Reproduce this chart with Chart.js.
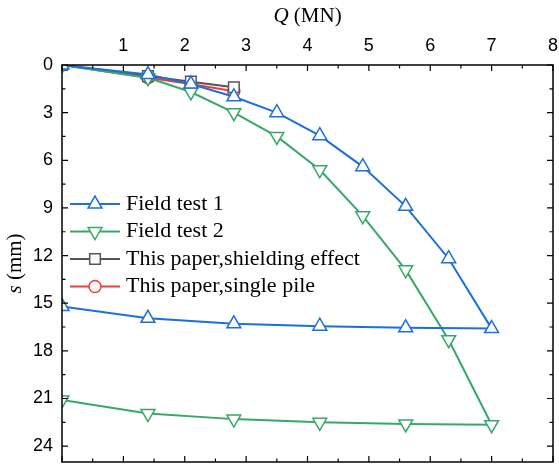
<!DOCTYPE html>
<html>
<head>
<meta charset="utf-8">
<script src="https://cdn.jsdelivr.net/npm/chart.js@4.4.0/dist/chart.umd.min.js"></script>
<style>
  html, body { margin: 0; padding: 0; background: #fff; }
</style>
</head>
<body>
<canvas id="myChart" width="559" height="464"></canvas>
<script>
'use strict';

// load steps (MN) and settlement readings (mm)
const loadSteps = [0, 1.4, 2.1, 2.8, 3.5, 4.2, 4.9, 5.6, 6.3, 7.0];
const unloadSteps = [5.6, 4.2, 2.8, 1.4, 0];
const test1Load = [0, 0.6, 1.2, 2.0, 3.0, 4.45, 6.4, 8.9, 12.2, 16.6];
const test1Unload = [16.55, 16.45, 16.3, 15.95, 15.2];
const test2Load = [0, 0.8, 1.7, 3.0, 4.5, 6.6, 9.5, 12.9, 17.3, 22.65];
const test2Unload = [22.6, 22.5, 22.3, 21.95, 21.1];
const paperSteps = [0, 1.4, 2.1, 2.8];
const shieldingSettle = [0, 0.7, 1.05, 1.4];
const singleSettle = [0, 0.8, 1.2, 1.65];

const seriesNames = [
  'Field test 1',
  'Field test 2',
  'This paper,shielding effect',
  'This paper,single pile',
];
const qTicks = [1, 2, 3, 4, 5, 6, 7, 8];
const sTicks = [0, 3, 6, 9, 12, 15, 18, 21, 24];

function toPoints(xs, ys) {
  return xs.map((x, i) => ({ x: x, y: ys[i] }));
}

function makeSeries(label, points, color, style, rotation, radius) {
  return {
    label: label,
    data: points,
    borderColor: color,
    borderWidth: 2,
    backgroundColor: '#fff',
    pointStyle: style,
    pointRotation: rotation,
    pointRadius: radius,
    pointBorderWidth: 1.5,
    pointBorderColor: color,
    pointBackgroundColor: '#fff',
    tension: 0,
  };
}

const test1Points = toPoints(loadSteps, test1Load).concat(toPoints(unloadSteps, test1Unload));
const test2Points = toPoints(loadSteps, test2Load).concat(toPoints(unloadSteps, test2Unload));

const datasets = [
  makeSeries(seriesNames[0], test1Points, '#1c6fde', 'triangle', 0, 8),
  makeSeries(seriesNames[1], test2Points, '#37a866', 'triangle', 180, 8),
  makeSeries(seriesNames[2], toPoints(paperSteps, shieldingSettle), '#555555', 'rect', 0, 7.5),
  makeSeries(seriesNames[3], toPoints(paperSteps, singleSettle), '#f23a3a', 'circle', 0, 6),
];

// box with inward ticks, axis titles and the legend
const framePlugin = {
  id: 'frame',
  afterDraw(chart) {
    const ctx = chart.ctx;
    const area = chart.chartArea;
    const xs = chart.scales.x;
    const ys = chart.scales.y;

    ctx.save();
    ctx.strokeStyle = '#000';
    ctx.lineWidth = 1.5;
    ctx.strokeRect(area.left, area.top, area.right - area.left, area.bottom - area.top);

    ctx.lineWidth = 1.2;
    ctx.beginPath();
    for (let v = 0; v <= 8; v += 0.5) {
      const px = xs.getPixelForValue(v);
      const len = v % 1 === 0 ? 6 : 3.5;
      ctx.moveTo(px, area.top);
      ctx.lineTo(px, area.top + len);
      ctx.moveTo(px, area.bottom);
      ctx.lineTo(px, area.bottom - len);
    }
    for (let v = 0; v <= 25; v += 1.5) {
      const py = ys.getPixelForValue(v);
      const len = v % 3 === 0 ? 6 : 3.5;
      ctx.moveTo(area.left, py);
      ctx.lineTo(area.left + len, py);
      ctx.moveTo(area.right, py);
      ctx.lineTo(area.right - len, py);
    }
    ctx.stroke();

    // axis titles, italic symbol followed by the unit
    ctx.fillStyle = '#000';
    ctx.textBaseline = 'middle';
    drawTitle(ctx, 'Q', ' (MN)', (area.left + area.right) / 2, 16);
    ctx.translate(15, (area.top + area.bottom) / 2);
    ctx.rotate(-Math.PI / 2);
    drawTitle(ctx, 's', ' (mm)', 0, 0);
    ctx.restore();

    drawLegend(chart);
  },
};

function drawTitle(ctx, symbol, unit, cx, cy) {
  const italic = 'italic 21px "Liberation Serif"';
  const plain = '21px "Liberation Serif"';
  ctx.font = italic;
  const w1 = ctx.measureText(symbol).width;
  ctx.font = plain;
  const w2 = ctx.measureText(unit).width;
  const start = cx - (w1 + w2) / 2;
  ctx.textAlign = 'left';
  ctx.font = italic;
  ctx.fillText(symbol, start, cy);
  ctx.font = plain;
  ctx.fillText(unit, start + w1, cy);
}

function drawLegend(chart) {
  const ctx = chart.ctx;
  const rowY = 204;
  const rowGap = 27.5;

  ctx.save();
  chart.data.datasets.forEach((ds, i) => {
    const y = rowY + i * rowGap;
    ctx.strokeStyle = ds.borderColor;
    ctx.lineWidth = ds.borderWidth;
    ctx.beginPath();
    ctx.moveTo(70, y);
    ctx.lineTo(120, y);
    ctx.stroke();

    ctx.fillStyle = '#fff';
    ctx.lineWidth = ds.pointBorderWidth;
    Chart.helpers.drawPoint(ctx, {
      pointStyle: ds.pointStyle,
      rotation: ds.pointRotation,
      radius: ds.pointRadius,
      borderWidth: ds.pointBorderWidth,
    }, 95, y);

    ctx.fillStyle = '#000';
    ctx.font = '22px "Liberation Serif"';
    ctx.textAlign = 'left';
    ctx.textBaseline = 'middle';
    ctx.fillText(ds.label, 126, y);
  });
  ctx.restore();
}

const tickFont = { family: '"Liberation Sans", Arial, sans-serif', size: 18 };

new Chart(document.getElementById('myChart'), {
  type: 'line',
  data: { datasets: datasets },
  options: {
    responsive: false,
    devicePixelRatio: 1,
    animation: false,
    layout: { autoPadding: false, padding: { top: 0, left: 0, right: 6, bottom: 2 } },
    plugins: {
      legend: { display: false },
      tooltip: { enabled: false },
    },
    scales: {
      x: {
        type: 'linear',
        position: 'top',
        min: 0,
        max: 8,
        afterBuildTicks: (scale) => {
          scale.ticks = qTicks.map((v) => ({ value: v }));
        },
        afterFit: (scale) => {
          scale.height = 65;
          scale.paddingLeft = 0;
          scale.paddingRight = 0;
        },
        grid: { display: false, drawTicks: false },
        border: { display: false },
        ticks: { font: tickFont, color: '#000', padding: 8, maxRotation: 0, autoSkip: false },
      },
      y: {
        type: 'linear',
        reverse: true,
        min: 0,
        max: 25,
        afterBuildTicks: (scale) => {
          scale.ticks = sTicks.map((v) => ({ value: v }));
        },
        afterFit: (scale) => {
          scale.width = 62;
          scale.paddingTop = 0;
          scale.paddingBottom = 0;
        },
        grid: { display: false, drawTicks: false },
        border: { display: false },
        ticks: { font: tickFont, color: '#000', padding: 9, autoSkip: false },
      },
    },
  },
  plugins: [framePlugin],
});
</script>
</body>
</html>
